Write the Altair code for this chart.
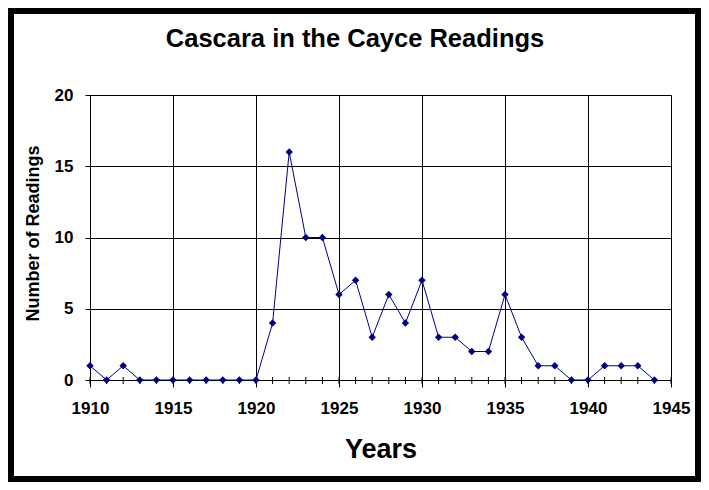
import altair as alt
import pandas as pd

# ---- data ----
years = list(range(1910, 1945))
readings = [1, 0, 1, 0, 0, 0, 0, 0, 0, 0,
            0, 4, 16, 10, 10, 6, 7, 3, 6, 4,
            7, 3, 3, 2, 2, 6, 3, 1, 1, 0,
            0, 1, 1, 1, 0]
x_major = [1910, 1915, 1920, 1925, 1930, 1935, 1940, 1945]
x_minor = list(range(1910, 1946))
y_major = [0, 5, 10, 15, 20]
title_text = "Cascara in the Cayce Readings"
x_title = "Years"
y_title = "Number of Readings"

df = pd.DataFrame({"year": years, "n": readings})
minor_df = pd.DataFrame({"year": x_minor})
one = pd.DataFrame({"a": [0]})

W, H = 581, 285
PL, PT = 82, 87
CW, CH = 693, 474
FONT = "Liberation Sans"
NAVY = "#000080"

xscale = alt.Scale(domain=[1910, 1945], nice=False, zero=False)
yscale = alt.Scale(domain=[0, 20], nice=False)

xaxis = alt.Axis(values=x_major, format="d", grid=True, gridColor="black",
                 gridOpacity=1, gridWidth=1, domainColor="black", tickColor="black",
                 tickSize=7, labelPadding=13, labelFont=FONT, labelFontSize=17,
                 labelFontWeight="bold", labelColor="black", labelFlush=False,
                 title=x_title, titleFont=FONT, titleFontSize=27, titleFontWeight="bold",
                 titleColor="black", titleX=W / 2, titleY=77, titleBaseline="alphabetic",
                 titleAlign="center")
yaxis = alt.Axis(values=y_major, grid=True, gridColor="black", gridOpacity=1,
                 gridWidth=1, domainColor="black", tickColor="black", tickSize=5,
                 labelPadding=12, labelFont=FONT, labelFontSize=17,
                 labelFontWeight="bold", labelColor="black", labelFlush=False,
                 title=y_title, titleFont=FONT, titleFontSize=18, titleFontWeight="bold",
                 titleColor="black", titleX=-52, titleY=138, titleAngle=270,
                 titleBaseline="alphabetic", titleAlign="center")

frame = alt.Chart(one).mark_rect(filled=False, stroke="black", strokeWidth=12).encode(
    x=alt.value(-PL), x2=alt.value(CW - PL), y=alt.value(-PT), y2=alt.value(CH - PT)
)

minor = alt.Chart(minor_df).mark_rule(color="black", strokeWidth=1).encode(
    x=alt.X("year:Q", scale=xscale, axis=xaxis),
    y=alt.value(H - 3), y2=alt.value(H + 4)
)

line = alt.Chart(df).mark_line(color=NAVY, strokeWidth=1).encode(
    x=alt.X("year:Q", scale=xscale, axis=xaxis),
    y=alt.Y("n:Q", scale=yscale, axis=yaxis)
)

pts = alt.Chart(df).mark_point(shape="diamond", filled=True, color=NAVY,
                               size=55, opacity=1).encode(
    x=alt.X("year:Q", scale=xscale),
    y=alt.Y("n:Q", scale=yscale)
)

title = alt.Chart(one).mark_text(text=title_text, font=FONT, fontSize=25.5,
                                 fontWeight="bold", color="black", align="center",
                                 baseline="alphabetic").encode(
    x=alt.value(265), y=alt.value(-48)
)

chart = alt.layer(frame, minor, line, pts, title).properties(
    width=W, height=H,
    autosize=alt.AutoSizeParams(type="none"),
    padding={"left": PL, "top": PT, "right": CW - PL - W, "bottom": CH - PT - H},
    background="white",
).configure_view(stroke=None)

chart.save("out.html", embed_options={"renderer": "svg", "actions": False})
